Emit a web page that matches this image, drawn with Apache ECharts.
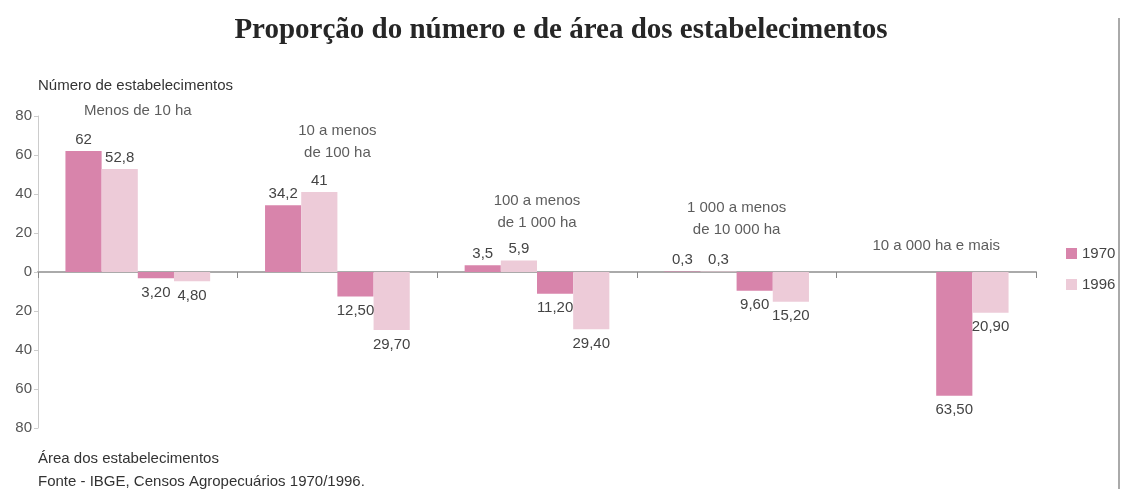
<!DOCTYPE html>
<html>
<head>
<meta charset="utf-8">
<script src="https://cdn.jsdelivr.net/npm/echarts@6/dist/echarts.min.js"></script>
<style>
  html, body { margin: 0; padding: 0; background: #fff; }
  #chart { width: 1122px; height: 489px; }
</style>
</head>
<body>
<div id="chart"></div>
<script>
// categorias (classes de área)
const categories = ['Menos de 10 ha', '10 a menos\nde 100 ha', '100 a menos\nde 1 000 ha', '1 000 a menos\nde 10 000 ha', '10 a 000 ha e mais'];
const years = ['1970', '1996'];

// número de estabelecimentos (%)
const num1970 = [62, 34.2, 3.5, 0.3, 0];
const num1996 = [52.8, 41, 5.9, 0.3, 0];

// área dos estabelecimentos (%), desenhada para baixo
const area1970 = [-3.2, -12.5, -11.2, -9.6, -63.5];
const area1996 = [-4.8, -29.7, -29.4, -15.2, -20.9];

const DARK = '#d884ab';
const LIGHT = '#edcbd8';
const FONT = '"Liberation Sans", Arial, sans-serif';
const FS = 15;

const fmtNum = (p) => p.value === 0 ? '' : String(p.value).replace('.', ',');
const fmtArea = (p) => Math.abs(p.value).toFixed(2).replace('.', ',');

const barSeries = (name, data, color, isArea) => ({
	name: name,
	type: 'bar',
	data: data,
	barGap: '0%',
	barCategoryGap: '27.5%',
	itemStyle: { color: color },
	label: {
		show: true,
		position: isArea ? 'bottom' : 'top',
		distance: isArea ? 7 : 4,
		color: '#444',
		fontSize: FS,
		fontFamily: FONT,
		formatter: isArea ? fmtArea : fmtNum
	},
	animation: false
});

// altura (no eixo) dos rótulos de cada classe
const capHeights = [82.5, 66.5, 31, 27, 13.5];

const smallText = { fontFamily: FONT, fontSize: FS, fontWeight: 'normal', color: '#333' };

const option = {
	animation: false,
	title: [
		{
			text: 'Proporção do número e de área dos estabelecimentos',
			left: 'center',
			top: 16,
			padding: 0,
			textStyle: { fontFamily: '"Liberation Serif", serif', fontSize: 29, fontWeight: 'bold', color: '#262626' }
		},
		{ text: 'Número de estabelecimentos', left: 38, top: 78, padding: 0, textStyle: smallText },
		{ text: 'Área dos estabelecimentos', left: 38, top: 451, padding: 0, textStyle: smallText },
		{ text: 'Fonte - IBGE, Censos Agropecuários 1970/1996.', left: 38, top: 474, padding: 0, textStyle: smallText }
	],
	legend: {
		data: years,
		orient: 'vertical',
		left: 1066,
		top: 246,
		padding: 0,
		itemWidth: 11,
		itemHeight: 11,
		itemGap: 16,
		icon: 'rect',
		textStyle: { fontFamily: FONT, fontSize: FS, color: '#444' }
	},
	grid: { left: 38, right: 86, top: 116, bottom: 61 },
	xAxis: {
		type: 'category',
		data: categories,
		axisLine: { lineStyle: { color: '#aaa', width: 2 } },
		axisTick: { show: true, length: 6, lineStyle: { color: '#888' } },
		axisLabel: { show: false }
	},
	yAxis: {
		type: 'value',
		min: -80,
		max: 80,
		interval: 20,
		axisLine: { show: true, lineStyle: { color: '#ccc' } },
		axisTick: { show: true, length: 4, lineStyle: { color: '#ccc' } },
		splitLine: { show: false },
		axisLabel: {
			color: '#555',
			fontSize: FS,
			fontFamily: FONT,
			margin: 6,
			formatter: (v) => String(Math.abs(v))
		}
	},
	series: [
		barSeries('1970', num1970, DARK, false),
		barSeries('1996', num1996, LIGHT, false),
		barSeries('1970', area1970, DARK, true),
		barSeries('1996', area1996, LIGHT, true),
		{
			name: 'classes',
			type: 'scatter',
			clip: false,
			symbolSize: 1,
			itemStyle: { color: 'rgba(0,0,0,0)' },
			data: categories.map((c, i) => [i, capHeights[i]]),
			label: {
				show: true,
				position: 'inside',
				color: '#333',
				fontSize: FS,
				lineHeight: 22,
				fontFamily: FONT,
				align: 'center',
				formatter: (p) => categories[p.dataIndex]
			},
			silent: true,
			animation: false
		}
	],
	graphic: [
		{
			type: 'line',
			shape: { x1: 1119, y1: 18, x2: 1119, y2: 489 },
			style: { stroke: '#aaa', lineWidth: 2 }
		}
	]
};

const chart = echarts.init(document.getElementById('chart'));
chart.setOption(option);
</script>
</body>
</html>
